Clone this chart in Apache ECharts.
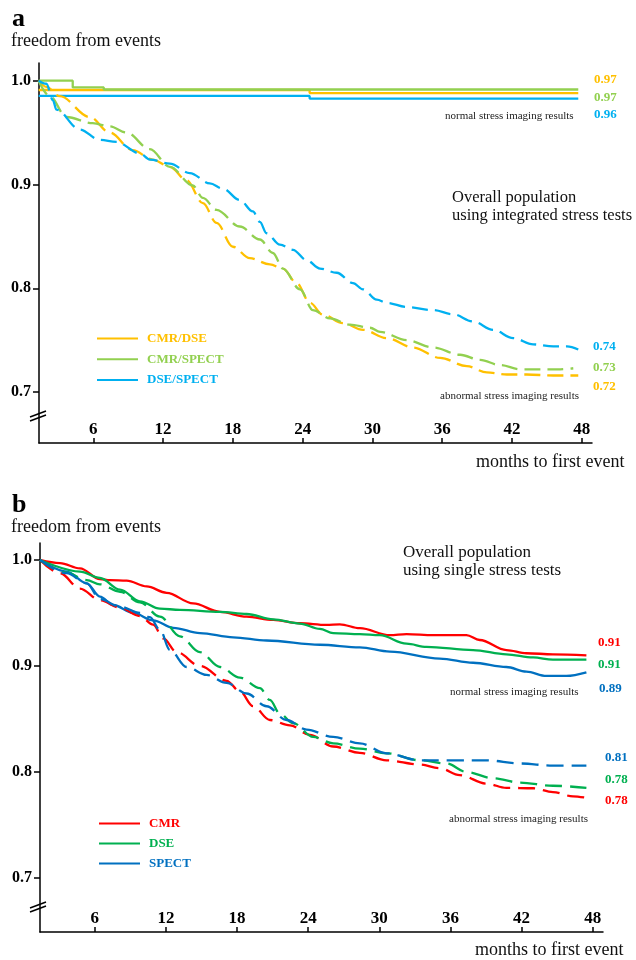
<!DOCTYPE html>
<html><head><meta charset="utf-8">
<script src="https://cdn.jsdelivr.net/npm/echarts@6/dist/echarts.min.js"></script>
<style>html,body{margin:0;padding:0;background:#fff}#c{width:636px;height:960px}</style>
</head><body><div id="c"></div><script>
// ---------- DATA ----------
const xTicks = [6, 12, 18, 24, 30, 36, 42, 48];
const yTicks = [0.7, 0.8, 0.9, 1.0];
const topNames = ['CMR/DSE', 'CMR/SPECT', 'DSE/SPECT'];
const bottomNames = ['CMR', 'DSE', 'SPECT'];

// panel a: normal stress imaging results (solid, step)
const aNormalCmrDse = [[1.3,0.991],[24.6,0.991],[24.6,0.988],[47.7,0.988]];
const aNormalCmrSpect = [[1.3,1.0],[4.23,1.0],[4.23,0.9935],[6.9,0.9935],[6.9,0.9915],[47.7,0.9915]];
const aNormalDseSpect = [[1.3,0.9853],[24.6,0.9853],[24.6,0.9827],[47.7,0.9827]];
// panel a: abnormal stress imaging results (dashed)
const aAbnormalCmrDse = [[1.3,1.0],[1.96,0.994],[3.11,0.985],[5.69,0.965],[7.41,0.950],[9.39,0.933],[11.11,0.924],[12.58,0.917],[14.02,0.904],[15.42,0.882],[16.6,0.863],[18.0,0.840],[19.46,0.829],[21.19,0.823],[22.31,0.819],[23.48,0.805],[24.63,0.786],[25.75,0.7745],[27.47,0.7665],[29.19,0.760],[31.23,0.752],[33.5,0.743],[35.82,0.733],[38.12,0.725],[39.84,0.719],[41.56,0.717],[43.28,0.717],[45.55,0.716],[47.7,0.716]];
const aAbnormalCmrSpect = [[1.3,1.0],[2.25,0.985],[3.69,0.965],[5.95,0.959],[7.41,0.956],[8.85,0.950],[10.86,0.934],[12.58,0.917],[14.56,0.899],[15.42,0.887],[16.6,0.8756],[18.6,0.8595],[20.32,0.847],[21.44,0.834],[22.31,0.819],[23.77,0.799],[24.89,0.779],[26.35,0.771],[28.07,0.765],[29.79,0.762],[30.66,0.758],[32.95,0.750],[35.22,0.743],[37.54,0.736],[39.26,0.731],[40.98,0.726],[42.71,0.722],[44.43,0.722],[46.15,0.722],[47.27,0.723]];
const aAbnormalDseSpect = [[1.3,1.0],[1.96,0.997],[2.53,0.981],[2.83,0.972],[4.83,0.953],[6.55,0.943],[7.99,0.941],[10.0,0.930],[10.86,0.924],[12.58,0.920],[14.3,0.911],[16.02,0.901],[17.14,0.896],[18.6,0.885],[19.72,0.874],[20.32,0.864],[20.9,0.853],[22.05,0.842],[23.17,0.837],[24.35,0.827],[25.49,0.819],[26.93,0.815],[28.33,0.805],[29.19,0.799],[30.37,0.789],[31.23,0.786],[32.95,0.782],[35.22,0.779],[36.94,0.775],[38.66,0.768],[40.38,0.760],[42.1,0.752],[43.82,0.746],[45.55,0.744],[46.73,0.744],[47.7,0.741]];

// panel b: normal stress imaging results (solid)
const bNormalCmr = [[1.38,1.0],[3.07,0.997],[4.75,0.992],[6.44,0.982],[7.28,0.981],[8.69,0.9805],[10.38,0.975],[12.06,0.969],[14.3,0.959],[16.56,0.951],[18.81,0.9465],[21.05,0.9434],[23.3,0.9403],[25.55,0.9387],[26.67,0.9393],[28.36,0.9356],[30.89,0.929],[32.3,0.930],[34.54,0.929],[37.35,0.929],[38.47,0.9245],[40.72,0.915],[42.41,0.912],[44.65,0.911],[47.47,0.910]];
const bNormalDse = [[1.38,1.0],[4.75,0.989],[6.44,0.983],[8.13,0.972],[9.81,0.961],[11.5,0.954],[13.18,0.953],[16.56,0.951],[18.81,0.949],[21.05,0.944],[23.3,0.940],[24.99,0.935],[26.11,0.931],[28.36,0.930],[30.04,0.929],[32.3,0.921],[33.98,0.918],[37.91,0.915],[40.72,0.911],[42.97,0.908],[44.65,0.906],[47.47,0.906]];
const bNormalSpect = [[1.38,1.0],[3.63,0.989],[5.32,0.978],[6.44,0.9654],[7.56,0.9575],[9.25,0.950],[10.93,0.943],[12.62,0.936],[14.87,0.931],[17.68,0.927],[20.49,0.924],[24.99,0.920],[28.36,0.9176],[30.89,0.9135],[35.1,0.907],[37.91,0.903],[40.72,0.899],[42.41,0.8946],[44.1,0.8906],[45.78,0.8906],[47.47,0.894]];
// panel b: abnormal stress imaging results (dashed)
const bAbnormalCmr = [[1.38,1.0],[3.07,0.9875],[4.75,0.973],[6.44,0.962],[8.13,0.955],[9.81,0.947],[10.93,0.939],[11.78,0.926],[12.91,0.913],[14.87,0.900],[17.12,0.886],[18.24,0.876],[19.36,0.862],[20.77,0.849],[22.46,0.844],[24.14,0.835],[26.11,0.824],[28.36,0.818],[30.61,0.811],[33.42,0.807],[35.1,0.8035],[36.79,0.797],[39.04,0.789],[40.72,0.785],[42.97,0.7846],[44.65,0.781],[46.34,0.777],[47.75,0.775]];
const bAbnormalDse = [[1.38,1.0],[3.63,0.988],[5.32,0.981],[6.44,0.977],[8.13,0.970],[9.81,0.960],[11.5,0.9465],[13.18,0.928],[14.87,0.913],[16.56,0.899],[18.24,0.889],[19.93,0.879],[20.77,0.868],[21.61,0.855],[22.73,0.846],[24.42,0.833],[26.11,0.827],[28.36,0.822],[30.61,0.8176],[33.42,0.811],[35.67,0.808],[37.35,0.800],[39.6,0.794],[41.85,0.790],[44.65,0.787],[47.47,0.785]];
const bAbnormalSpect = [[1.38,1.0],[3.63,0.9875],[5.32,0.978],[6.44,0.963],[8.13,0.956],[9.81,0.950],[10.65,0.946],[11.5,0.934],[12.34,0.915],[13.75,0.899],[15.43,0.8915],[17.12,0.884],[18.81,0.874],[20.49,0.862],[22.18,0.849],[23.86,0.840],[26.11,0.833],[28.36,0.827],[30.61,0.8176],[33.42,0.811],[36.22,0.811],[39.04,0.811],[41.85,0.808],[44.65,0.806],[47.47,0.806]];

// end-point labels
const aNormalLabels = ['0.97', '0.97', '0.96'];
const aAbnormalLabels = ['0.74', '0.73', '0.72'];
const bNormalLabels = ['0.91', '0.91', '0.89'];
const bAbnormalLabels = ['0.81', '0.78', '0.78'];

// ---------- STYLE ----------
const SERIF = '"Liberation Serif", "Times New Roman", serif';
const topColors = ['#FFC000', '#92D050', '#00B0F0'];
const botColors = ['#FF0000', '#00B050', '#0070C0'];

function ser(name, data, color, dash, idx, smooth) {
  return {
    type: 'line', name, data, xAxisIndex: idx, yAxisIndex: idx,
    showSymbol: false, symbol: 'none', silent: true,
    smooth: smooth ? 0.35 : false, smoothMonotone: 'x',
    lineStyle: { color, width: 2.3, type: dash || 'solid' },
    itemStyle: { color }
  };
}

function xAxis(idx, min, max) {
  return {
    type: 'value', gridIndex: idx, min, max,
    splitLine: { show: false },
    axisLine: { show: true, lineStyle: { color: '#000', width: 1.5 } },
    axisTick: { show: true, inside: true, length: 5, customValues: xTicks, lineStyle: { color: '#000', width: 1.5 } },
    axisLabel: { show: true, inside: true, margin: 5, customValues: xTicks, color: '#000',
      fontFamily: SERIF, fontWeight: 'bold', fontSize: 17 }
  };
}
function yAxis(idx, min, max) {
  return {
    type: 'value', gridIndex: idx, min, max,
    splitLine: { show: false },
    axisLine: { show: true, onZero: false, lineStyle: { color: '#000', width: 1.5 } },
    axisTick: { show: true, inside: false, length: 6, customValues: yTicks, lineStyle: { color: '#000', width: 1.5 } },
    axisLabel: { show: true, margin: 8, customValues: yTicks, color: '#000',
      fontFamily: SERIF, fontWeight: 'bold', fontSize: 16, formatter: v => v.toFixed(1) }
  };
}

function txt(x, y, text, size, color, bold) {
  return { type: 'text', x, y, silent: true,
    style: { text, fill: color, font: (bold ? 'bold ' : '') + size + 'px ' + SERIF,
      textAlign: 'left', textVerticalAlign: 'middle', align: 'left', verticalAlign: 'middle' } };
}
function seg(x1, y1, x2, y2) {
  return { type: 'line', silent: true, shape: { x1, y1, x2, y2 }, style: { stroke: '#000', lineWidth: 1.5 } };
}

const legendText = { fontFamily: SERIF, fontWeight: 'bold', fontSize: 13, padding: [0, 0, 0, 4] };
const TOP_DASH = [16, 7];
const BOT_DASH = [17, 8];

const chart = echarts.init(document.getElementById('c'), null, { renderer: 'canvas' });
chart.setOption({
  animation: false,
  backgroundColor: '#fff',
  grid: [
    { left: 39, top: 63, width: 553, height: 380 },
    { left: 40, top: 543, width: 563, height: 389 }
  ],
  xAxis: [xAxis(0, 1.33, 48.88), xAxis(1, 1.38, 48.87)],
  yAxis: [yAxis(0, 0.651, 1.017), yAxis(1, 0.649, 1.016)],
  legend: [
    { orient: 'vertical', left: 92, top: 327, itemWidth: 41, itemHeight: 2, itemGap: 7.7, icon: 'rect',
      selectedMode: false, textStyle: legendText,
      data: topNames.map((n, i) => ({ name: n, textStyle: { color: topColors[i] } })) },
    { orient: 'vertical', left: 94, top: 812, itemWidth: 41, itemHeight: 2, itemGap: 7, icon: 'rect',
      selectedMode: false, textStyle: legendText,
      data: bottomNames.map((n, i) => ({ name: n, textStyle: { color: botColors[i] } })) }
  ],
  series: [
    ser(topNames[0], aNormalCmrDse, topColors[0], null, 0, false),
    ser(topNames[1], aNormalCmrSpect, topColors[1], null, 0, false),
    ser(topNames[2], aNormalDseSpect, topColors[2], null, 0, false),
    ser(topNames[0], aAbnormalCmrDse, topColors[0], TOP_DASH, 0, true),
    ser(topNames[1], aAbnormalCmrSpect, topColors[1], TOP_DASH, 0, true),
    ser(topNames[2], aAbnormalDseSpect, topColors[2], TOP_DASH, 0, true),
    ser(bottomNames[0], bNormalCmr, botColors[0], null, 1, true),
    ser(bottomNames[1], bNormalDse, botColors[1], null, 1, true),
    ser(bottomNames[2], bNormalSpect, botColors[2], null, 1, true),
    ser(bottomNames[0], bAbnormalCmr, botColors[0], BOT_DASH, 1, true),
    ser(bottomNames[1], bAbnormalDse, botColors[1], BOT_DASH, 1, true),
    ser(bottomNames[2], bAbnormalSpect, botColors[2], BOT_DASH, 1, true)
  ],
  graphic: [
    txt(12, 19.5, 'a', 26, '#000', true),
    txt(11, 41, 'freedom from events', 18, '#111', false),
    txt(476, 462, 'months to first event', 18, '#111', false),
    txt(452, 198, 'Overall population', 16.5, '#111', false),
    txt(452, 216, 'using integrated stress tests', 16.5, '#111', false),
    txt(445, 115.7, 'normal stress imaging results', 11, '#222', false),
    txt(440, 395.7, 'abnormal stress imaging results', 11, '#222', false),
    txt(594, 80, aNormalLabels[0], 13, topColors[0], true),
    txt(594, 97.7, aNormalLabels[1], 13, topColors[1], true),
    txt(594, 114.3, aNormalLabels[2], 13, topColors[2], true),
    txt(593, 346.7, aAbnormalLabels[0], 13, topColors[2], true),
    txt(593, 367.3, aAbnormalLabels[1], 13, topColors[1], true),
    txt(593, 386.7, aAbnormalLabels[2], 13, topColors[0], true),
    seg(30, 417, 46, 411), seg(30, 421, 46, 415),

    txt(12, 505, 'b', 26, '#000', true),
    txt(11, 527, 'freedom from events', 18, '#111', false),
    txt(475, 950, 'months to first event', 18, '#111', false),
    txt(403, 552.5, 'Overall population', 17, '#111', false),
    txt(403, 571, 'using single stress tests', 17, '#111', false),
    txt(450, 692.5, 'normal stress imaging results', 11, '#222', false),
    txt(449, 819.3, 'abnormal stress imaging results', 11, '#222', false),
    txt(598, 642.7, bNormalLabels[0], 13, botColors[0], true),
    txt(598, 664.3, bNormalLabels[1], 13, botColors[1], true),
    txt(599, 689, bNormalLabels[2], 13, botColors[2], true),
    txt(605, 757.3, bAbnormalLabels[0], 13, botColors[2], true),
    txt(605, 779.3, bAbnormalLabels[1], 13, botColors[1], true),
    txt(605, 801, bAbnormalLabels[2], 13, botColors[0], true),
    seg(30, 908, 46, 902), seg(30, 912, 46, 906)
  ]
});
</script></body></html>
